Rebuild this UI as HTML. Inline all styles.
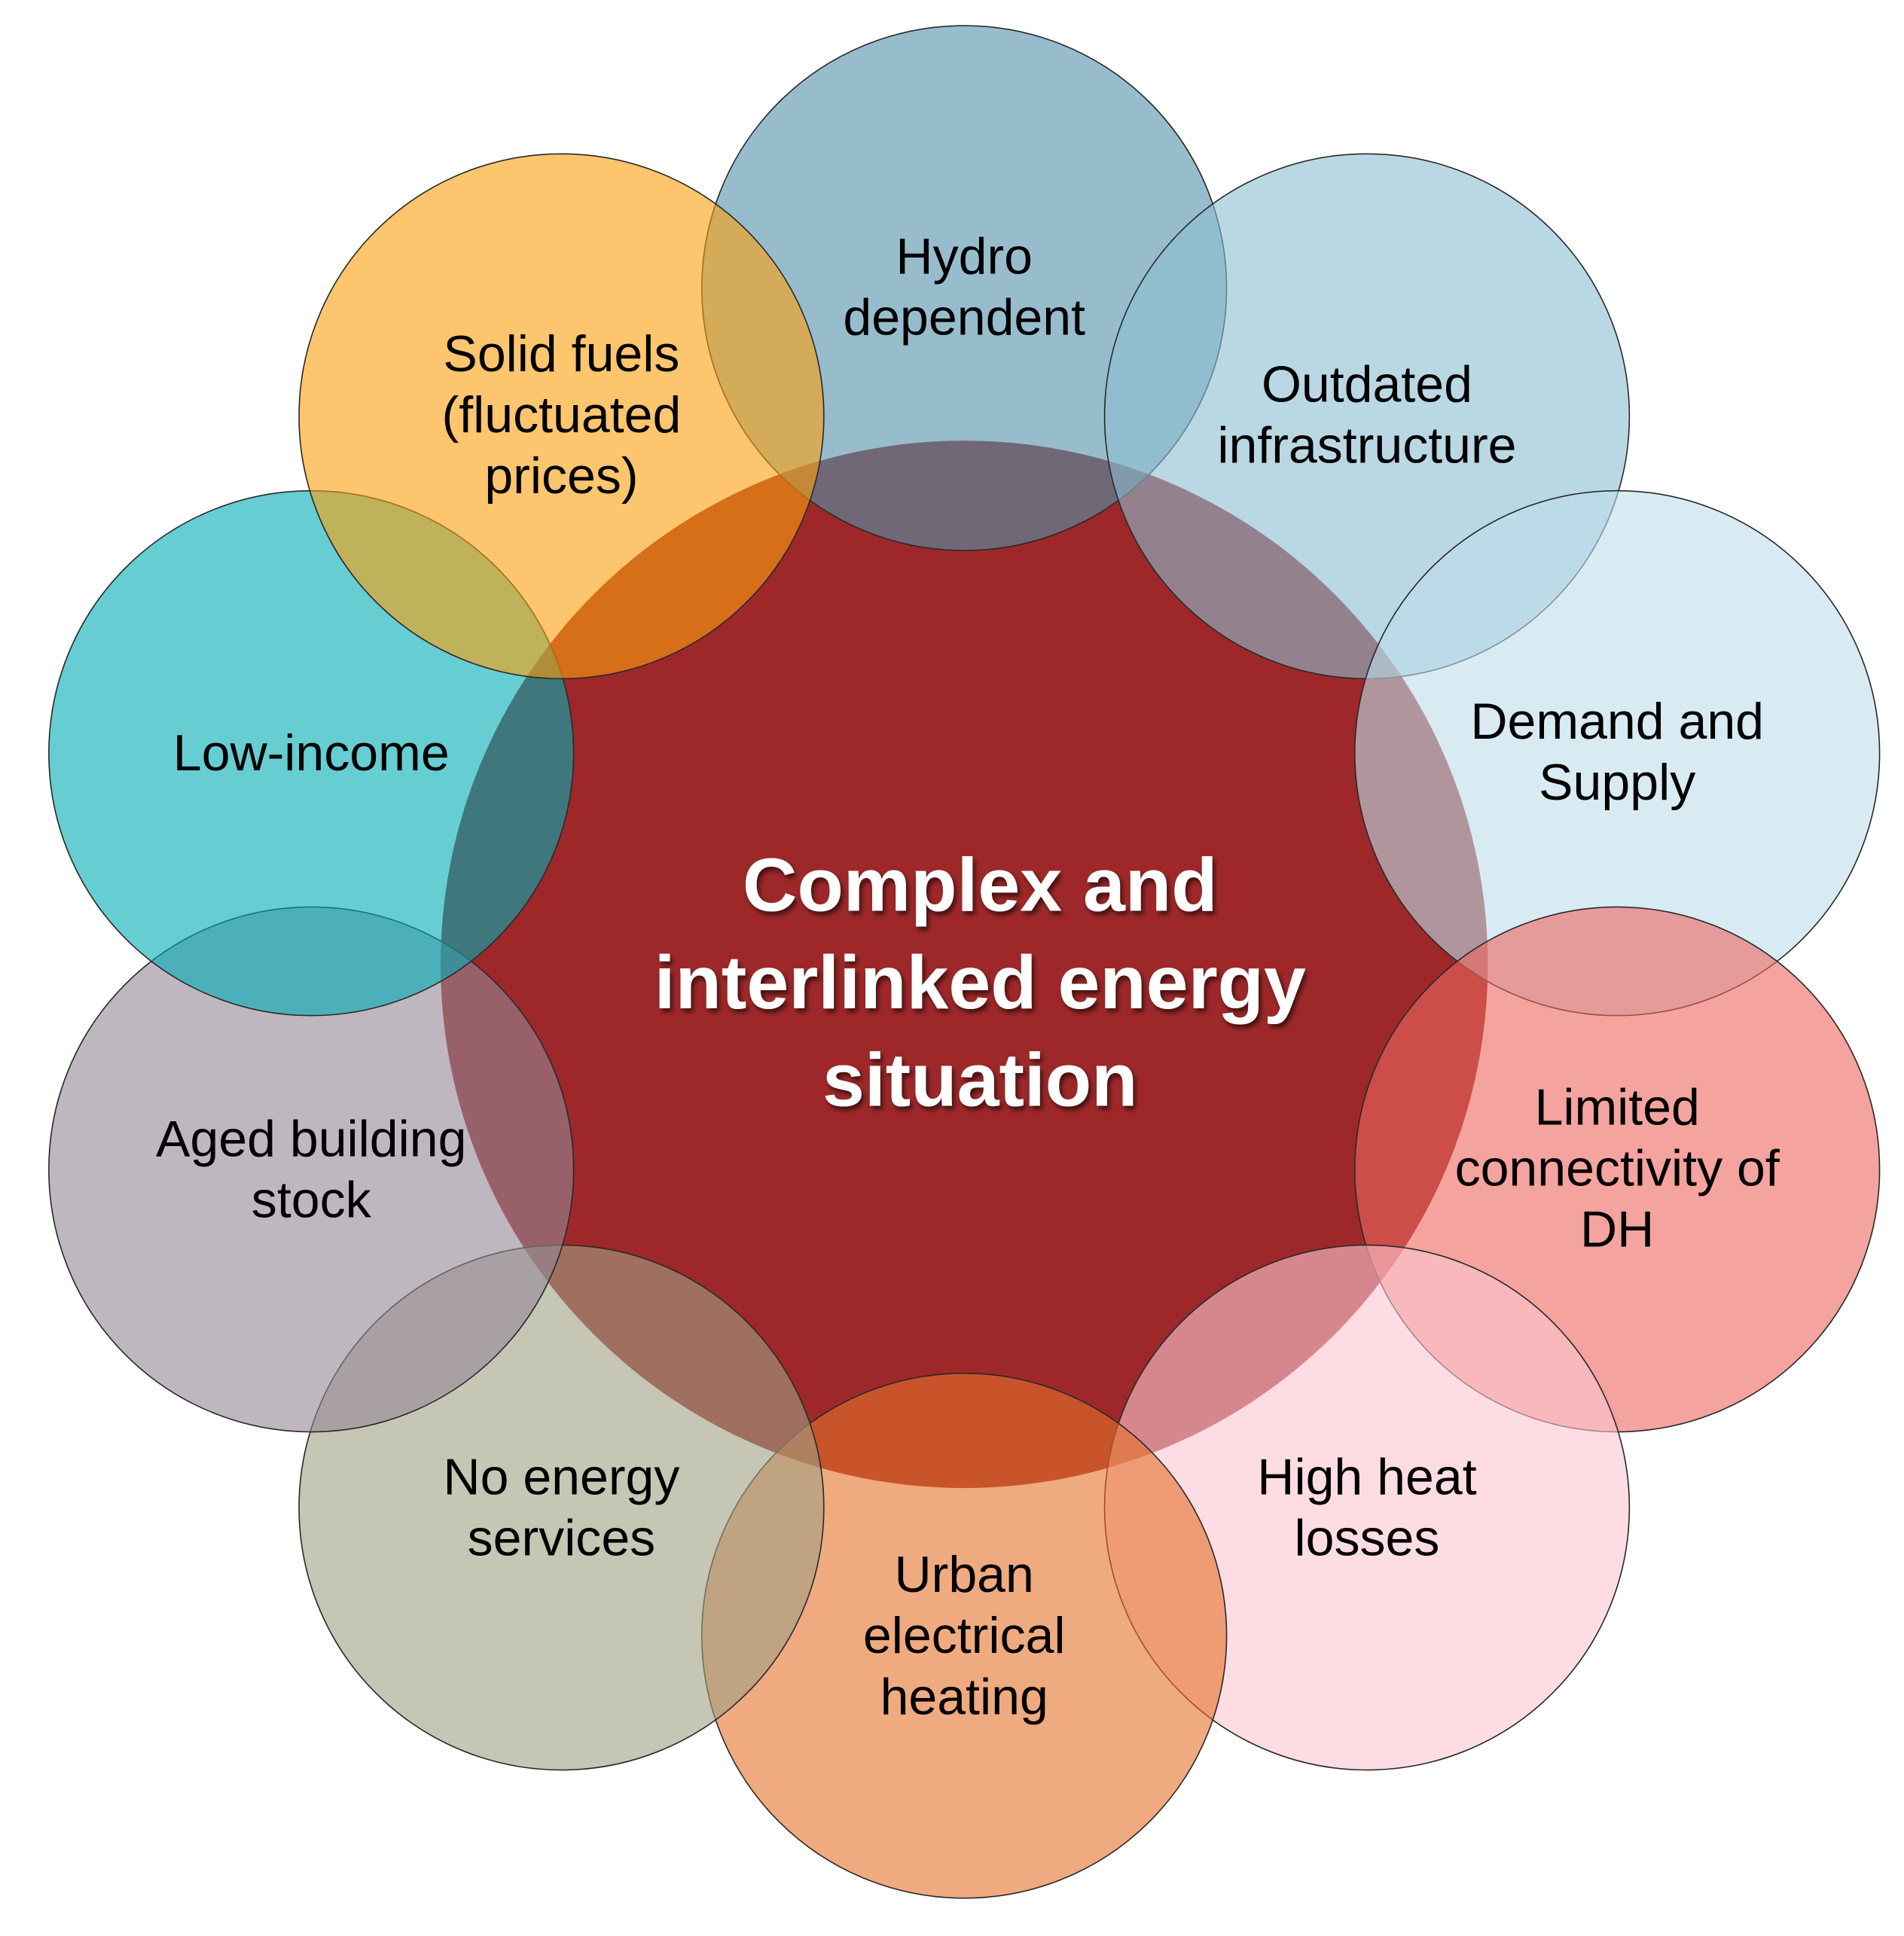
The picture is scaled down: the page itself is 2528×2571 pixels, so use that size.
<!DOCTYPE html>
<html><head><meta charset="utf-8"><style>
html,body{margin:0;padding:0;background:#fff;}
svg{display:block;}
text{font-family:"Liberation Sans",Arial,sans-serif;}
</style></head><body>
<svg width="2528" height="2571" viewBox="0 0 1560 1586" preserveAspectRatio="none" xmlns="http://www.w3.org/2000/svg">
<defs>
<filter id="sh" x="-10%" y="-10%" width="120%" height="130%">
<feDropShadow dx="2" dy="3" stdDeviation="2" flood-color="#000" flood-opacity="0.6"/>
</filter>
</defs>
<rect width="1560" height="1586" fill="#fff"/>
<circle cx="790" cy="790" r="429" fill="#9e2829"/>
<g stroke="#2a2a2a" stroke-width="1" fill-opacity="0.6">
<circle cx="790" cy="236" r="215" fill="rgb(82,145,172)"/>
<circle cx="1120" cy="341" r="215" fill="rgb(140,190,208)"/>
<circle cx="1325" cy="617" r="215" fill="rgb(190,222,235)"/>
<circle cx="1325" cy="958" r="215" fill="rgb(237,102,95)"/>
<circle cx="1120" cy="1235" r="215" fill="rgb(252,198,208)"/>
<circle cx="790" cy="1340" r="215" fill="rgb(230,113,42)"/>
<circle cx="460" cy="1235" r="215" fill="rgb(160,160,132)"/>
<circle cx="255" cy="958" r="215" fill="rgb(148,135,150)"/>
<circle cx="255" cy="617" r="215" fill="rgb(0,172,182)"/>
<circle cx="460" cy="341" r="215" fill="rgb(251,158,12)"/>
</g>
<g font-size="42" fill="#000" text-anchor="middle" dominant-baseline="central">
<text x="790" y="210">Hydro</text><text x="790" y="260">dependent</text>
<text x="460" y="290">Solid fuels</text><text x="460" y="340">(fluctuated</text><text x="460" y="390">prices)</text>
<text x="1120" y="315">Outdated</text><text x="1120" y="365">infrastructure</text>
<text x="255" y="617">Low-income</text>
<text x="1325" y="591">Demand and</text><text x="1325" y="641">Supply</text>
<text x="255" y="933">Aged building</text><text x="255" y="983">stock</text>
<text x="1325" y="907">Limited</text><text x="1325" y="957">connectivity of</text><text x="1325" y="1007">DH</text>
<text x="460" y="1210">No energy</text><text x="460" y="1260">services</text>
<text x="1120" y="1210">High heat</text><text x="1120" y="1260">losses</text>
<text x="790" y="1290">Urban</text><text x="790" y="1340">electrical</text><text x="790" y="1390">heating</text>
</g>
<g font-size="62" font-weight="bold" fill="#fff" text-anchor="middle" dominant-baseline="central" filter="url(#sh)">
<text x="803" y="725">Complex and</text>
<text x="803" y="805">interlinked energy</text>
<text x="803" y="885">situation</text>
</g>
</svg>
</body></html>
